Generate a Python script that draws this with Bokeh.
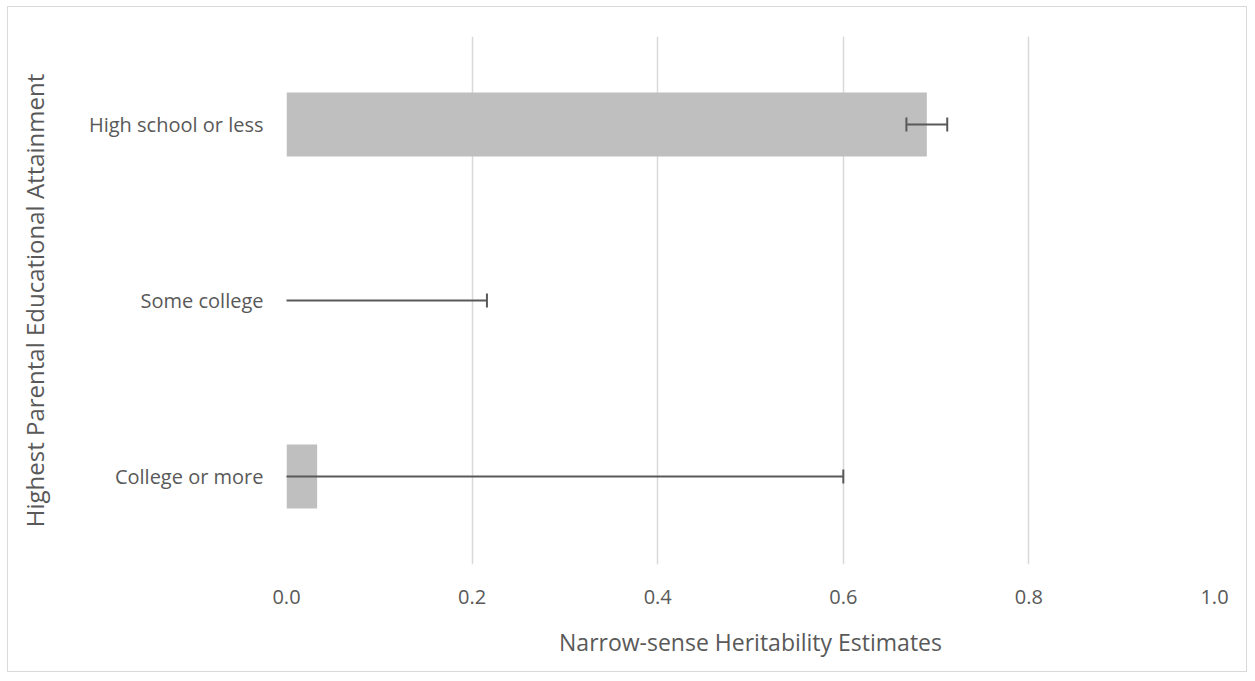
import math
from bokeh.plotting import figure
from bokeh.models import Range1d, FixedTicker, ColumnDataSource, CustomJSTickFormatter
from bokeh.embed import file_html
from bokeh.resources import INLINE

categories = ["College or more", "Some college", "High school or less"]
estimates = [0.033, 0.0, 0.690]
errors = [0.567, 0.216, 0.022]
x_ticks = [0.0, 0.2, 0.4, 0.6, 0.8, 1.0]
x_title = "Narrow-sense Heritability Estimates"
y_title = "Highest Parental Educational Attainment"

lower = [e - d for e, d in zip(estimates, errors)]
upper = [e + d for e, d in zip(estimates, errors)]
src = ColumnDataSource(dict(cat=categories, est=estimates, lo=lower, hi=upper))

FONT = "Open Sans"
TXT = "#595959"

p = figure(width=1240, height=666, y_range=categories, x_range=Range1d(0, 1.0),
           output_backend="svg", toolbar_location=None,
           min_border_left=278, min_border_right=34, min_border_top=29, min_border_bottom=109)
p.styles = {"border": "1px solid #d9d9d9", "margin-left": "7px", "margin-top": "6px"}
p.outline_line_color = None
p.background_fill_color = "white"
p.border_fill_color = "white"

p.hbar(y="cat", left=0, right="est", height=0.364, source=src,
       fill_color="#bfbfbf", line_color=None)
p.segment(x0="lo", y0="cat", x1="hi", y1="cat", source=src,
          line_color="#595959", line_width=2)
p.scatter(x="lo", y="cat", source=src, marker="dash", angle=math.pi / 2, size=14,
          line_color="#595959", line_width=2)
p.scatter(x="hi", y="cat", source=src, marker="dash", angle=math.pi / 2, size=14,
          line_color="#595959", line_width=2)

xa = p.xaxis[0]
xa.ticker = FixedTicker(ticks=x_ticks)
xa.formatter = CustomJSTickFormatter(code="return tick.toFixed(1);")
xa.axis_line_color = None
xa.major_tick_line_color = None
xa.minor_tick_line_color = None
xa.major_label_standoff = 19
xa.major_label_text_font = FONT
xa.major_label_text_font_size = "20px"
xa.major_label_text_color = TXT
xa.axis_label = x_title
xa.axis_label_standoff = 19
xa.axis_label_text_font = FONT
xa.axis_label_text_font_size = "23px"
xa.axis_label_text_font_style = "normal"
xa.axis_label_text_color = TXT

ya = p.yaxis[0]
ya.axis_line_color = None
ya.major_tick_line_color = None
ya.minor_tick_line_color = None
ya.major_label_standoff = 17
ya.major_label_text_font = FONT
ya.major_label_text_font_size = "20px"
ya.major_label_text_color = TXT
ya.axis_label = y_title
ya.axis_label_standoff = 35
ya.axis_label_text_font = FONT
ya.axis_label_text_font_size = "24px"
ya.axis_label_text_font_style = "normal"
ya.axis_label_text_color = TXT

p.xgrid.grid_line_color = "#d9d9d9"
p.xgrid.grid_line_width = 1.5
p.ygrid.grid_line_color = None

open("out.html", "w").write(file_html(p, INLINE))
